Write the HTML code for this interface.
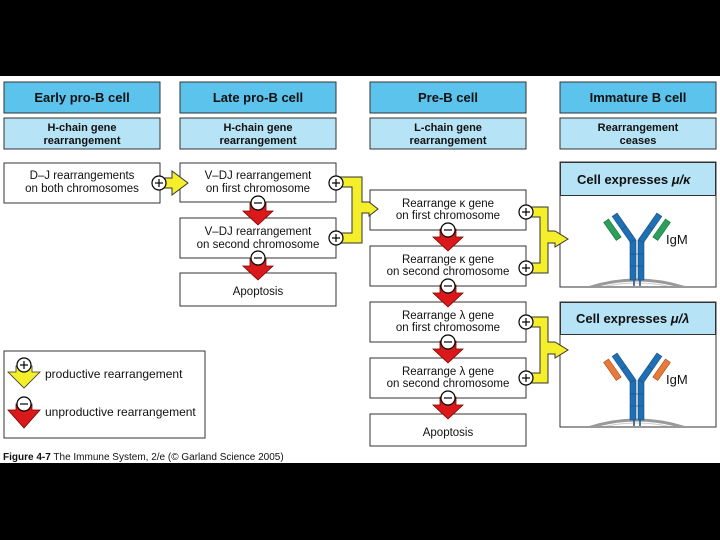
<!DOCTYPE html>
<html><head><meta charset="utf-8"><style>
body{margin:0;background:#000;}
svg{display:block;font-family:"Liberation Sans",Arial,sans-serif;}
</style></head><body>
<svg width="720" height="540" viewBox="0 0 720 540" xmlns="http://www.w3.org/2000/svg">
<defs>
<g id="red"><path d="M-8,0 H8 V8 H15 L0,22 L-15,8 H-8 Z" fill="#d9191a" stroke="#7a0000" stroke-width="0.8"/></g>
<g id="minus"><circle r="7" fill="#fff" stroke="#000" stroke-width="1.2"/><line x1="-4" x2="4" y1="0" y2="0" stroke="#000" stroke-width="1.2"/></g>
<g id="plus"><circle r="7" fill="#fff" stroke="#000" stroke-width="1.2"/><line x1="-4" x2="4" y1="0" y2="0" stroke="#000" stroke-width="1.2"/><line x1="0" x2="0" y1="-4" y2="4" stroke="#000" stroke-width="1.2"/></g>
<g id="ab">
<path d="M-55,50 Q0,30 55,50" fill="none" stroke="#999" stroke-width="3"/>
<path d="M-55,53 Q0,33 55,53" fill="none" stroke="#ccc" stroke-width="1"/>
<rect x="-7" y="0" width="6" height="40" fill="#1f6fb5" stroke="#174f80" stroke-width="0.6"/>
<rect x="1" y="0" width="6" height="40" fill="#1f6fb5" stroke="#174f80" stroke-width="0.6"/>
<line x1="-7" x2="7" y1="14" y2="14" stroke="#174f80" stroke-width="0.6"/>
<line x1="-7" x2="7" y1="26" y2="26" stroke="#174f80" stroke-width="0.6"/>
<line x1="-3" x2="-3" y1="40" y2="52" stroke="#174f80" stroke-width="1.5"/>
<line x1="3" x2="3" y1="40" y2="52" stroke="#174f80" stroke-width="1.5"/>
<g transform="translate(-4,1) rotate(-35)"><rect x="-3" y="-32" width="6" height="32" fill="#1f6fb5" stroke="#174f80" stroke-width="0.6"/><line x1="-3" x2="3" y1="-16" y2="-16" stroke="#174f80" stroke-width="0.6"/></g>
<g transform="translate(4,1) rotate(35)"><rect x="-3" y="-32" width="6" height="32" fill="#1f6fb5" stroke="#174f80" stroke-width="0.6"/><line x1="-3" x2="3" y1="-16" y2="-16" stroke="#174f80" stroke-width="0.6"/></g>
</g>
<clipPath id="c1"><rect x="561" y="196" width="154" height="90"/></clipPath>
<clipPath id="c2"><rect x="561" y="335" width="154" height="91"/></clipPath>
</defs>
<rect x="0" y="76" width="720" height="387" fill="#fff"/>
<g stroke="#333" stroke-width="1">
<rect x="4" y="82" width="156" height="31" fill="#5bc3ec"/>
<rect x="180" y="82" width="156" height="31" fill="#5bc3ec"/>
<rect x="370" y="82" width="156" height="31" fill="#5bc3ec"/>
<rect x="560" y="82" width="156" height="31" fill="#5bc3ec"/>
<rect x="4" y="118" width="156" height="31" fill="#b7e3f6"/>
<rect x="180" y="118" width="156" height="31" fill="#b7e3f6"/>
<rect x="370" y="118" width="156" height="31" fill="#b7e3f6"/>
<rect x="560" y="118" width="156" height="31" fill="#b7e3f6"/>
</g>
<g font-weight="bold" font-size="13" text-anchor="middle" fill="#111">
<text x="82" y="102">Early pro-B cell</text>
<text x="258" y="102">Late pro-B cell</text>
<text x="448" y="102">Pre-B cell</text>
<text x="638" y="102">Immature B cell</text>
</g>
<g font-weight="bold" font-size="11" text-anchor="middle" fill="#111">
<text x="82" y="131">H-chain gene</text><text x="82" y="144">rearrangement</text>
<text x="258" y="131">H-chain gene</text><text x="258" y="144">rearrangement</text>
<text x="448" y="131">L-chain gene</text><text x="448" y="144">rearrangement</text>
<text x="638" y="131">Rearrangement</text><text x="638" y="144">ceases</text>
</g>
<g fill="#fff" stroke="#333" stroke-width="1">
<rect x="4" y="163" width="156" height="40"/>
<rect x="180" y="163" width="156" height="39"/>
<rect x="180" y="218" width="156" height="40"/>
<rect x="180" y="273" width="156" height="33"/>
<rect x="370" y="190" width="156" height="40"/>
<rect x="370" y="246" width="156" height="40"/>
<rect x="370" y="302" width="156" height="40"/>
<rect x="370" y="358" width="156" height="40"/>
<rect x="370" y="414" width="156" height="32"/>
<rect x="560" y="162" width="156" height="125"/>
<rect x="560" y="302" width="156" height="125"/>
<rect x="4" y="351" width="201" height="87"/>
</g>
<rect x="560.5" y="162.5" width="155" height="33" fill="#b7e3f6" stroke="#333"/>
<rect x="560.5" y="302.5" width="155" height="32" fill="#b7e3f6" stroke="#333"/>
<g fill="#f5ee2a" stroke="#333" stroke-width="1">
<path d="M158,178 H172 V171 L188,183 L172,195 V188 H158 Z"/>
<path d="M336,177 H362 V202 H369 L378,209 L369,216 V213 H362 V243 H336 V233 H352 V187 H336 Z"/>
<path d="M526,207 H548 V231 H555 L568,239 L555,247 V243 H548 V273 H526 V263 H540 V217 H526 Z"/>
<path d="M526,317 H548 V342 H555 L568,350 L555,358 V354 H548 V383 H526 V373 H540 V327 H526 Z"/>
</g>
<g font-size="11.5" text-anchor="middle" fill="#111">
<text x="82" y="179">D–J rearrangements</text><text x="82" y="192">on both chromosomes</text>
<text x="258" y="179">V–DJ rearrangement</text><text x="258" y="192">on first chromosome</text>
<text x="258" y="235">V–DJ rearrangement</text><text x="258" y="248">on second chromosome</text>
<text x="258" y="295">Apoptosis</text>
<text x="448" y="207">Rearrange κ gene</text><text x="448" y="219">on first chromosome</text>
<text x="448" y="263">Rearrange κ gene</text><text x="448" y="275">on second chromosome</text>
<text x="448" y="319">Rearrange λ gene</text><text x="448" y="331">on first chromosome</text>
<text x="448" y="375">Rearrange λ gene</text><text x="448" y="387">on second chromosome</text>
<text x="448" y="436">Apoptosis</text>
</g>
<g font-weight="bold" font-size="13" fill="#111">
<text x="577" y="184">Cell expresses <tspan font-style="italic">μ/κ</tspan></text>
<text x="576" y="323">Cell expresses <tspan font-style="italic">μ/λ</tspan></text>
<text x="666" y="244" font-weight="normal" font-size="13">IgM</text>
<text x="666" y="384" font-weight="normal" font-size="13">IgM</text>
</g>
<g clip-path="url(#c1)"><g transform="translate(637,240)"><use href="#ab"/>
<g transform="translate(-16,2) rotate(-35)"><rect x="-3" y="-26" width="6" height="22" fill="#2aa05a" stroke="#1a6b3a" stroke-width="0.6"/></g>
<g transform="translate(16,2) rotate(35)"><rect x="-3" y="-26" width="6" height="22" fill="#2aa05a" stroke="#1a6b3a" stroke-width="0.6"/></g>
</g></g>
<g clip-path="url(#c2)"><g transform="translate(637,380)"><use href="#ab"/>
<g transform="translate(-16,2) rotate(-35)"><rect x="-3" y="-26" width="6" height="22" fill="#e87a3a" stroke="#a04a1a" stroke-width="0.6"/></g>
<g transform="translate(16,2) rotate(35)"><rect x="-3" y="-26" width="6" height="22" fill="#e87a3a" stroke="#a04a1a" stroke-width="0.6"/></g>
</g></g>
<use href="#red" x="258" y="203"/>
<use href="#red" x="258" y="258"/>
<use href="#red" x="448" y="229"/>
<use href="#red" x="448" y="285"/>
<use href="#red" x="448" y="341"/>
<use href="#red" x="448" y="397"/>
<use href="#plus" x="159" y="183"/>
<use href="#plus" x="336" y="183"/>
<use href="#plus" x="336" y="238"/>
<use href="#minus" x="258" y="203"/>
<use href="#minus" x="258" y="258"/>
<use href="#plus" x="526" y="212"/>
<use href="#plus" x="526" y="268"/>
<use href="#plus" x="526" y="322"/>
<use href="#plus" x="526" y="378"/>
<use href="#minus" x="448" y="230"/>
<use href="#minus" x="448" y="286"/>
<use href="#minus" x="448" y="342"/>
<use href="#minus" x="448" y="398"/>
<path d="M16,366 H32 V372 H40 L24,388 L8,372 H16 Z" fill="#f5ee2a" stroke="#333" stroke-width="0.8"/>
<use href="#plus" x="24" y="365"/>
<path d="M16,404 H32 V410 H40 L24,428 L8,410 H16 Z" fill="#d9191a" stroke="#7a0000" stroke-width="0.8"/>
<use href="#minus" x="24" y="404"/>
<text x="45" y="378" font-size="12" fill="#111">productive rearrangement</text>
<text x="45" y="416" font-size="12" fill="#111">unproductive rearrangement</text>
<text x="3" y="460" font-size="10" fill="#111"><tspan font-weight="bold">Figure 4-7</tspan>  The Immune System, 2/e (© Garland Science 2005)</text>
</svg>
</body></html>
